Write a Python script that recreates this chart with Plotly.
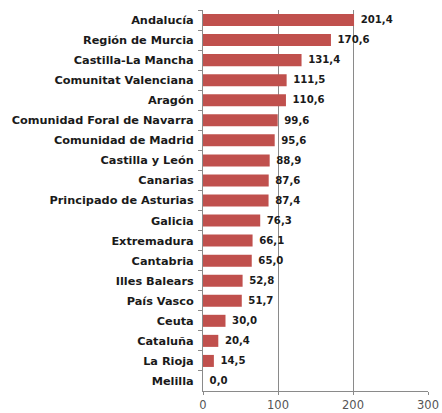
import plotly.graph_objects as go

regions = ["Andalucía", "Región de Murcia", "Castilla-La Mancha", "Comunitat Valenciana",
           "Aragón", "Comunidad Foral de Navarra", "Comunidad de Madrid", "Castilla y León",
           "Canarias", "Principado de Asturias", "Galicia", "Extremadura", "Cantabria",
           "Illes Balears", "País Vasco", "Ceuta", "Cataluña", "La Rioja", "Melilla"]
values = [201.4, 170.6, 131.4, 111.5, 110.6, 99.6, 95.6, 88.9, 87.6, 87.4, 76.3, 66.1,
          65.0, 52.8, 51.7, 30.0, 20.4, 14.5, 0.0]
x_ticks = [0, 100, 200, 300]

labels = [" " + f"{v:.1f}".replace(".", ",") for v in values]

fig = go.Figure(go.Bar(
    x=values, y=regions, orientation="h",
    marker=dict(color="#C0504D", line=dict(width=0)),
    text=labels, textposition="outside", cliponaxis=False,
    textfont=dict(family="DejaVu Sans", size=11, color="#1a1a1a", weight="bold"),
    width=0.6,
))

fig.update_layout(
    width=442, height=413,
    margin=dict(l=203, r=14, t=10, b=22, autoexpand=False),
    plot_bgcolor="white", paper_bgcolor="white",
    showlegend=False,
    xaxis=dict(range=[0, 300], tickvals=x_ticks, showgrid=True, gridcolor="#8a8a8a",
               gridwidth=1, zeroline=False, showline=True, linecolor="#8a8a8a",
               linewidth=1, automargin=False, ticks="outside", ticklen=3,
               tickcolor="#8a8a8a",
               tickfont=dict(family="DejaVu Sans", size=11.5, color="#555555")),
    yaxis=dict(categoryorder="array", categoryarray=regions, autorange="reversed",
               showline=True, linecolor="#8a8a8a", linewidth=1, ticks="outside",
               ticklen=4, tickcolor="#8a8a8a", tickson="boundaries", automargin=False,
               tickfont=dict(family="DejaVu Sans", size=11.3, color="#1a1a1a", weight="bold"),
               ticklabelstandoff=6),
)

fig.write_html(
    "out.html",
    config={"displayModeBar": False},
    post_script="document.body.style.margin='0';document.body.style.overflow='hidden';",
)
